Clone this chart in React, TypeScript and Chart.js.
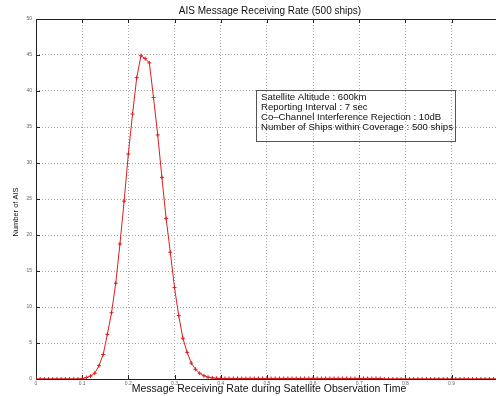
import React, { useEffect, useRef } from "react";
import { Chart, registerables } from "chart.js";

Chart.register(...registerables);

const chartTitle = "AIS Message Receiving Rate (500 ships)";
const xAxisTitle = "Message Receiving Rate during Satellite Observation Time";
const yAxisTitle = "Number of AIS";

const noteLines = [
  "Satellite Altitude : 600km",
  "Reporting Interval : 7 sec",
  "Co\u2013Channel Interference Rejection : 10dB",
  "Number of Ships within Coverage : 500 ships",
];

const xTickValues = [0, 0.1, 0.2, 0.3, 0.4, 0.5, 0.6, 0.7, 0.8, 0.9];
const xTickLabels = ["0", "0.1", "0.2", "0.3", "0.4", "0.5", "0.6", "0.7", "0.8", "0.9"];
const yTickValues = [0, 5, 10, 15, 20, 25, 30, 35, 40, 45, 50];

const receivingRate = [
  0, 0.0091, 0.0182, 0.0273, 0.0364, 0.0455, 0.0545, 0.0636, 0.0727, 0.0818, 0.0909,
  0.1, 0.1091, 0.1182, 0.1273, 0.1364, 0.1455, 0.1545, 0.1636, 0.1727, 0.1818, 0.1909,
  0.2, 0.2091, 0.2182, 0.2273, 0.2364, 0.2455, 0.2545, 0.2636, 0.2727, 0.2818, 0.2909,
  0.3, 0.3091, 0.3182, 0.3273, 0.3364, 0.3455, 0.3545, 0.3636, 0.3727, 0.3818, 0.3909,
  0.4, 0.4091, 0.4182, 0.4273, 0.4364, 0.4455, 0.4545, 0.4636, 0.4727, 0.4818, 0.4909,
  0.5, 0.5091, 0.5182, 0.5273, 0.5364, 0.5455, 0.5545, 0.5636, 0.5727, 0.5818, 0.5909,
  0.6, 0.6091, 0.6182, 0.6273, 0.6364, 0.6455, 0.6545, 0.6636, 0.6727, 0.6818, 0.6909,
  0.7, 0.7091, 0.7182, 0.7273, 0.7364, 0.7455, 0.7545, 0.7636, 0.7727, 0.7818, 0.7909,
  0.8, 0.8091, 0.8182, 0.8273, 0.8364, 0.8455, 0.8545, 0.8636, 0.8727, 0.8818, 0.8909,
  0.9, 0.9091, 0.9182, 0.9273, 0.9364, 0.9455, 0.9545, 0.9636, 0.9727, 0.9818, 0.9909,
  1.0,
];

const numberOfAIS = [
  0, 0, 0, 0, 0, 0, 0, 0, 0, 0, 0,
  0.05, 0.2, 0.4, 0.8, 1.85, 3.4, 6.2, 9.2, 13.3, 18.75, 24.7,
  31.25, 36.8, 41.85, 44.9, 44.5, 43.9, 39.1, 33.9, 28, 22.3, 17.6,
  12.7, 8.8, 5.65, 3.7, 2.2, 1.35, 0.8, 0.45, 0.25, 0.15, 0.1,
  0.08, 0.08, 0.08, 0.08, 0.08, 0.08, 0.08, 0.08, 0.08, 0.08, 0.08,
  0.08, 0.08, 0.08, 0.08, 0.08, 0.08, 0.08, 0.08, 0.08, 0.08, 0.08,
  0.08, 0.08, 0.08, 0.08, 0.08, 0.08, 0.08, 0.08, 0.08, 0.08, 0.08,
  0.08, 0.08, 0.08, 0.08, 0.08, 0.08, 0, 0, 0, 0, 0,
  0, 0, 0, 0, 0, 0, 0, 0, 0, 0, 0,
  0, 0, 0, 0, 0, 0, 0, 0, 0, 0, 0,
  0,
];

const decorPlugin = {
  id: "decor",
  beforeDatasetsDraw(chart: any) {
    const { ctx, chartArea } = chart;
    const { left, top, right, bottom } = chartArea;
    const xs = chart.scales.x;
    const ys = chart.scales.y;
    ctx.save();
    ctx.strokeStyle = "#222";
    ctx.lineWidth = 1;
    ctx.setLineDash([]);
    ctx.beginPath();
    ctx.moveTo(Math.round(left) + 0.5, top);
    ctx.lineTo(Math.round(left) + 0.5, bottom);
    ctx.moveTo(left, Math.round(bottom) + 0.5);
    ctx.lineTo(right, Math.round(bottom) + 0.5);
    ctx.moveTo(left, Math.round(top) + 0.5);
    ctx.lineTo(right, Math.round(top) + 0.5);
    // inward ticks
    yTickValues.forEach((v) => {
      const py = Math.round(ys.getPixelForValue(v)) + 0.5;
      ctx.moveTo(left, py);
      ctx.lineTo(left + 4, py);
    });
    xTickValues.forEach((v) => {
      const px = Math.round(xs.getPixelForValue(v)) + 0.5;
      ctx.moveTo(px, bottom);
      ctx.lineTo(px, bottom - 4);
      ctx.moveTo(px, top);
      ctx.lineTo(px, top + 4);
    });
    ctx.stroke();

    // annotation box
    ctx.strokeStyle = "#555";
    ctx.strokeRect(256.5, 90.5, 199, 51);
    ctx.fillStyle = "#111";
    ctx.font = "9.6px Arial, 'Liberation Sans', sans-serif";
    ctx.textAlign = "left";
    ctx.textBaseline = "middle";
    noteLines.forEach((t, i) => {
      ctx.fillText(t, 261, 97 + i * 10);
    });
    ctx.restore();
  },
  afterDraw(chart: any) {
    const { ctx } = chart;
    ctx.save();
    ctx.fillStyle = "#111";
    ctx.textAlign = "center";
    ctx.textBaseline = "middle";
    ctx.font = "10px Arial, 'Liberation Sans', sans-serif";
    ctx.fillText(chartTitle, 270, 11);
    ctx.font = "10.5px Arial, 'Liberation Sans', sans-serif";
    ctx.fillText(xAxisTitle, 269, 389);
    ctx.translate(16, 212);
    ctx.rotate(-Math.PI / 2);
    ctx.font = "7.5px 'Liberation Sans Narrow', Arial, sans-serif";
    ctx.fillText(yAxisTitle, 0, 0);
    ctx.restore();
  },
};

export default function App() {
  const ref = useRef<HTMLCanvasElement>(null);
  useEffect(() => {
    if (!ref.current) return;
    const chart = new Chart(ref.current, {
      type: "line",
      data: {
        datasets: [
          {
            data: receivingRate.map((x, i) => ({ x, y: numberOfAIS[i] })),
            borderColor: "rgb(220,30,30)",
            borderWidth: 1,
            pointStyle: "cross",
            pointRadius: 2,
            pointBorderColor: "rgb(220,30,30)",
            pointBorderWidth: 1,
            fill: false,
            tension: 0,
          },
        ],
      },
      options: {
        animation: false,
        responsive: false,
        layout: { padding: { top: 19, right: 0, left: 0, bottom: 0 } },
        plugins: { legend: { display: false }, tooltip: { enabled: false }, title: { display: false } },
        scales: {
          x: {
            type: "linear",
            min: 0,
            max: 0.9963,
            afterBuildTicks: (s: any) => {
              s.ticks = xTickValues.map((v) => ({ value: v }));
            },
            afterFit: (s: any) => {
              s.height = 17;
            },
            ticks: {
              autoSkip: false,
              maxRotation: 0,
              padding: 2,
              color: "#666",
              font: { size: 5, family: "Arial" },
              callback: (v: any) => xTickLabels[xTickValues.indexOf(Number(v))] ?? "",
            },
            grid: { color: "#a8a8a8", lineWidth: 1, drawTicks: false },
            border: { display: false, dash: [1, 2] },
          },
          y: {
            min: 0,
            max: 50,
            afterBuildTicks: (s: any) => {
              s.ticks = yTickValues.map((v) => ({ value: v }));
            },
            afterFit: (s: any) => {
              s.width = 36;
            },
            ticks: {
              padding: 4,
              color: "#666",
              font: { size: 5, family: "Arial" },
              callback: (v: any) => String(v),
            },
            grid: { color: "#a8a8a8", lineWidth: 1, drawTicks: false },
            border: { display: false, dash: [1, 2] },
          },
        },
      },
      plugins: [decorPlugin],
    });
    return () => chart.destroy();
  }, []);
  return (
    <div style={{ position: "fixed", left: 0, top: 0, width: 501, height: 396, background: "#fff" }}>
      <canvas ref={ref} width={501} height={396} style={{ width: 501, height: 396 }} />
    </div>
  );
}
